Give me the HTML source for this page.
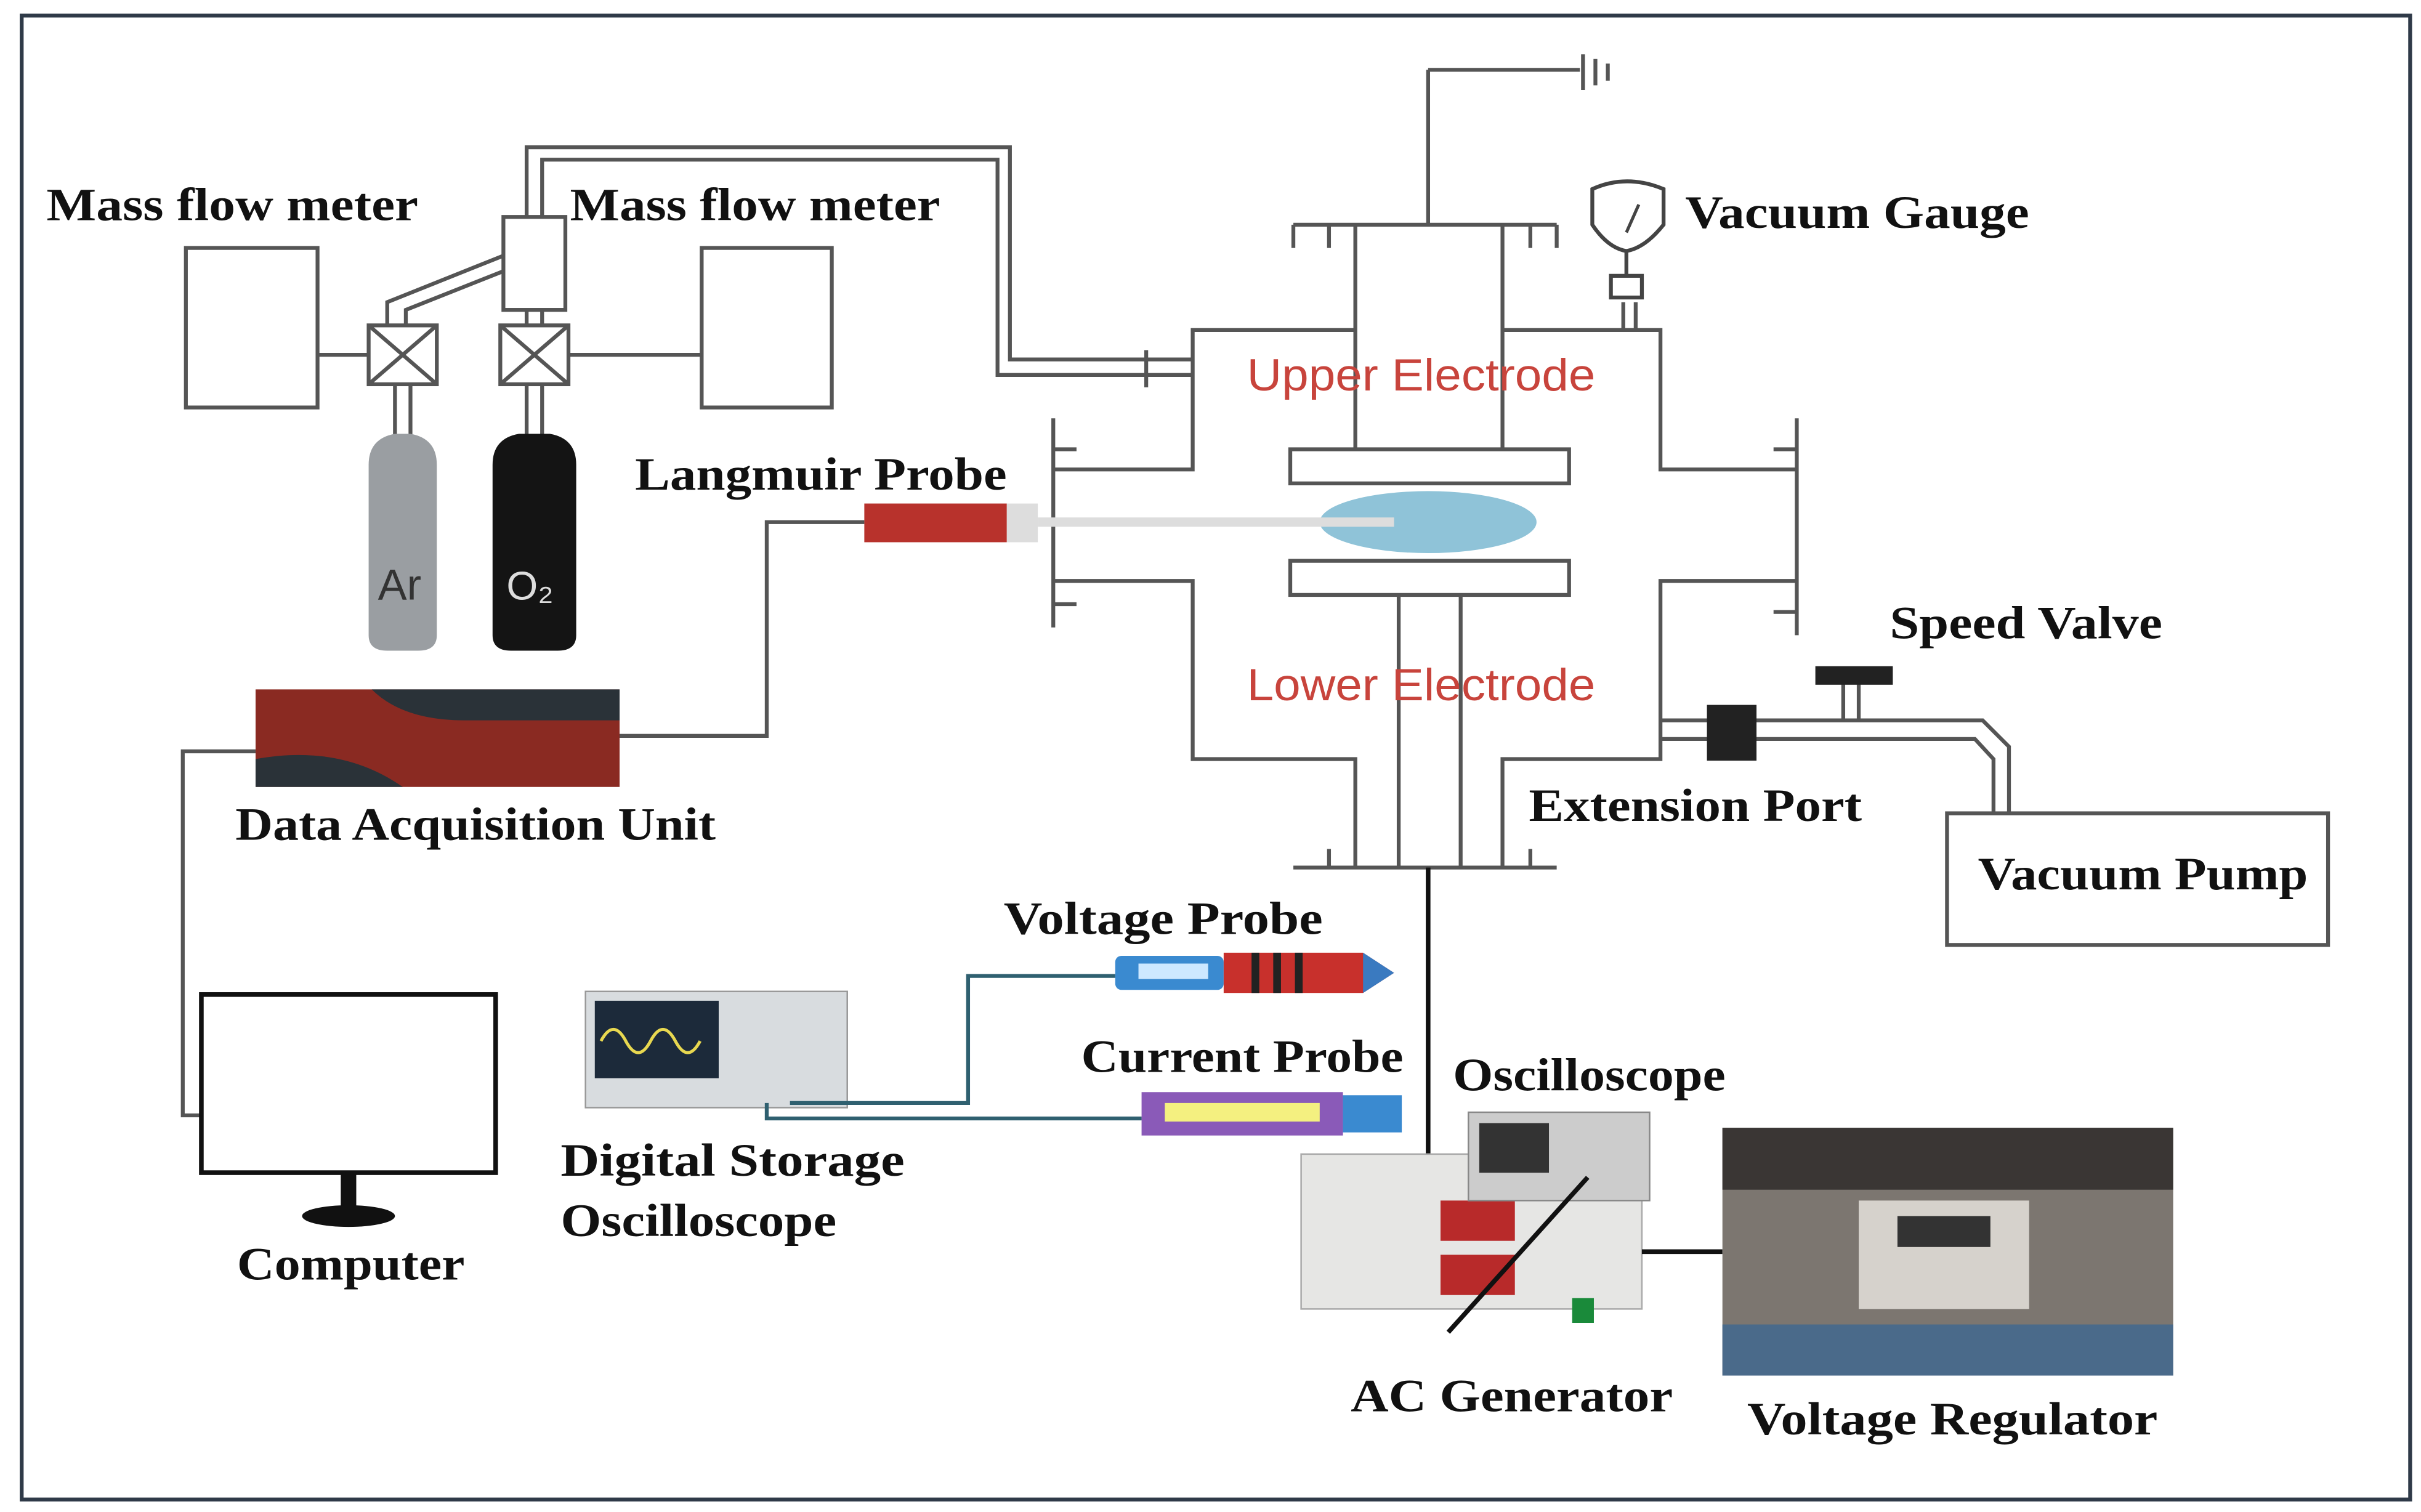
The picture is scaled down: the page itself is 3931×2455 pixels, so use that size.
<!DOCTYPE html>
<html><head><meta charset="utf-8"><style>
html,body{margin:0;padding:0;background:#fff}
svg{display:block}
.t{font-family:"Liberation Serif",serif;font-weight:bold;font-size:30px;fill:#111}
.r{font-family:"Liberation Sans",sans-serif;font-size:29px;fill:#c8443c}
.l{fill:none;stroke:#555;stroke-width:2.5}
</style></head><body>
<svg width="3931" height="2455" viewBox="0 0 1563 976" xmlns="http://www.w3.org/2000/svg">
<rect x="0" y="0" width="1563" height="976" fill="#fff"/>
<rect x="14" y="10" width="1542" height="958" fill="none" stroke="#2f3a48" stroke-width="2.5"/>

<rect x="120" y="160" width="85" height="103" class="l"/>
<rect x="453" y="160" width="84" height="103" class="l"/>
<rect x="325" y="140" width="40" height="60" class="l"/>
<line x1="205" y1="229" x2="238" y2="229" class="l"/>
<line x1="367" y1="229" x2="453" y2="229" class="l"/>
<g class="l">
<rect x="238" y="210" width="44" height="38"/><line x1="238" y1="210" x2="282" y2="248"/><line x1="282" y1="210" x2="238" y2="248"/>
<rect x="323" y="210" width="44" height="38"/><line x1="323" y1="210" x2="367" y2="248"/><line x1="367" y1="210" x2="323" y2="248"/>
</g>
<path d="M250 210 V195 L325 165 M262 210 V200 L325 175" class="l"/>
<path d="M340 210 V200 M350 210 V200" class="l"/>
<path d="M340 140 V95 H652 V232 H770 M350 140 V103 H644 V242 H770" class="l"/>
<line x1="740" y1="226" x2="740" y2="250" class="l"/>
<path d="M255 248 V285 M265 248 V285 M340 248 V285 M350 248 V285" class="l"/>

<path d="M238 300 Q238 283 255 280 H265 Q282 283 282 300 V410 Q282 420 270 420 H250 Q238 420 238 410 Z" fill="#9a9ea2"/>
<text x="244" y="387" font-family="Liberation Sans,sans-serif" font-size="28" fill="#333">Ar</text>
<path d="M318 300 Q318 283 335 280 H355 Q372 283 372 300 V410 Q372 420 360 420 H330 Q318 420 318 410 Z" fill="#141414"/>
<text x="327" y="387" font-family="Liberation Sans,sans-serif" font-size="26" fill="#ddd">O₂</text>

<g class="l">
<line x1="922" y1="45" x2="922" y2="145"/><line x1="922" y1="45" x2="1020" y2="45"/>
<line x1="1022" y1="35" x2="1022" y2="58"/><line x1="1030" y1="38" x2="1030" y2="55"/><line x1="1038" y1="41" x2="1038" y2="52"/>
<line x1="835" y1="145" x2="1005" y2="145"/><line x1="858" y1="145" x2="858" y2="160"/><line x1="988" y1="145" x2="988" y2="160"/>
<line x1="835" y1="145" x2="835" y2="160"/><line x1="1005" y1="145" x2="1005" y2="160"/>
<line x1="875" y1="145" x2="875" y2="290"/><line x1="970" y1="145" x2="970" y2="290"/>
<path d="M875 213 H770 V303 H680"/><path d="M970 213 H1072 V303 H1160"/>
<line x1="680" y1="270" x2="680" y2="405"/><line x1="1160" y1="270" x2="1160" y2="410"/>
<line x1="680" y1="290" x2="695" y2="290"/><line x1="680" y1="390" x2="695" y2="390"/>
<line x1="1145" y1="290" x2="1160" y2="290"/><line x1="1145" y1="395" x2="1160" y2="395"/>
<path d="M680 375 H770 V490 H875 V560"/><path d="M1160 375 H1072 V490 H970 V560"/>
<line x1="835" y1="560" x2="1005" y2="560"/><line x1="858" y1="548" x2="858" y2="560"/><line x1="988" y1="548" x2="988" y2="560"/>
<line x1="903" y1="384" x2="903" y2="560"/><line x1="943" y1="384" x2="943" y2="560"/>
<rect x="833" y="290" width="180" height="22"/><rect x="833" y="362" width="180" height="22"/>
<path d="M1048 195 V213 M1056 195 V213"/>
<path d="M1072 465 H1280 L1297 482 V525 M1072 477 H1275 L1287 490 V525"/>
<path d="M1190 440 V465 M1200 440 V465"/>
</g>
<line x1="922" y1="560" x2="922" y2="745" stroke="#111" stroke-width="3"/>
<ellipse cx="922" cy="337" rx="70" ry="20" fill="#8fc3d8"/>
<rect x="670" y="334" width="230" height="6" fill="#ddd"/>
<rect x="558" y="325" width="92" height="25" fill="#b8322c"/>
<rect x="650" y="325" width="20" height="25" fill="#ddd"/>
<path d="M558 337 H495 V475 H400" class="l"/>
<text class="r" x="805" y="252" textLength="225" lengthAdjust="spacingAndGlyphs">Upper Electrode</text>
<text class="r" x="805" y="452" textLength="225" lengthAdjust="spacingAndGlyphs">Lower Electrode</text>
<path d="M1028 122 Q1050 112 1074 122 V145 Q1062 160 1050 162 Q1038 160 1028 145 Z" fill="#fff" stroke="#444" stroke-width="2.5"/>
<line x1="1050" y1="150" x2="1058" y2="132" stroke="#444" stroke-width="2"/>
<rect x="1040" y="178" width="20" height="14" fill="#fff" stroke="#444" stroke-width="2.5"/>
<line x1="1050" y1="162" x2="1050" y2="178" stroke="#444" stroke-width="2.5"/>
<rect x="1102" y="455" width="32" height="36" fill="#222"/>
<rect x="1172" y="430" width="50" height="12" fill="#222"/>
<rect x="1257" y="525" width="246" height="85" class="l"/>

<path d="M165 445 H400 V508 H165 Z" fill="#8a2a22"/>
<path d="M240 445 H400 V465 H300 Q260 465 240 445 Z" fill="#2a3238"/>
<path d="M165 490 Q220 480 260 508 H165 Z" fill="#2a3238"/>
<path d="M165 485 H118 V720 H130" class="l"/>
<rect x="130" y="642" width="190" height="115" fill="#fff" stroke="#111" stroke-width="3"/>
<rect x="220" y="757" width="10" height="22" fill="#111"/>
<ellipse cx="225" cy="785" rx="30" ry="7" fill="#111"/>
<rect x="378" y="640" width="169" height="75" fill="#d8dcdf" stroke="#999"/>
<rect x="384" y="646" width="80" height="50" fill="#1c2a3a"/>
<path d="M388 672 q8 -15 16 0 t16 0 t16 0 t16 0" stroke="#e8d850" fill="none" stroke-width="2"/>
<path d="M495 712 V722 H737 M510 712 H625 V630 H720" stroke="#2f6070" stroke-width="2.5" fill="none"/>
<rect x="720" y="617" width="70" height="22" fill="#3a8ad0" rx="4"/>
<rect x="735" y="622" width="45" height="10" fill="#cde8ff"/>
<path d="M790 615 H880 L900 628 L880 641 H790 Z" fill="#c8302c"/>
<path d="M880 615 L900 628 L880 641 Z" fill="#3a7ac0"/>
<rect x="808" y="615" width="5" height="26" fill="#222"/><rect x="822" y="615" width="5" height="26" fill="#222"/><rect x="836" y="615" width="5" height="26" fill="#222"/>
<rect x="737" y="705" width="130" height="28" fill="#8a5ab8"/>
<rect x="752" y="712" width="100" height="12" fill="#f4f080"/>
<rect x="867" y="707" width="38" height="24" fill="#3a8ad0"/>
<rect x="840" y="745" width="220" height="100" fill="#e6e6e4" stroke="#aaa"/>
<rect x="930" y="775" width="48" height="26" fill="#b82a2a"/><rect x="930" y="810" width="48" height="26" fill="#b82a2a"/>
<rect x="1015" y="838" width="14" height="16" fill="#1a8a3a"/>
<rect x="948" y="718" width="117" height="57" fill="#ccc" stroke="#888"/>
<rect x="955" y="725" width="45" height="32" fill="#333"/>
<line x1="1025" y1="760" x2="935" y2="860" stroke="#111" stroke-width="3"/>
<line x1="1060" y1="808" x2="1112" y2="808" stroke="#111" stroke-width="3"/>
<rect x="1112" y="728" width="291" height="160" fill="#7c7670"/>
<rect x="1112" y="728" width="291" height="40" fill="#3a3634"/>
<rect x="1200" y="775" width="110" height="70" fill="#d6d2cc"/>
<rect x="1225" y="785" width="60" height="20" fill="#333"/>
<rect x="1112" y="855" width="291" height="33" fill="#4a6a8a"/>

<text class="t" x="30" y="142" textLength="240" lengthAdjust="spacingAndGlyphs">Mass flow meter</text>
<text class="t" x="368" y="142" textLength="239" lengthAdjust="spacingAndGlyphs">Mass flow meter</text>
<text class="t" x="1088" y="147" textLength="222" lengthAdjust="spacingAndGlyphs">Vacuum Gauge</text>
<text class="t" x="410" y="316" textLength="240" lengthAdjust="spacingAndGlyphs">Langmuir Probe</text>
<text class="t" x="1220" y="412" textLength="176" lengthAdjust="spacingAndGlyphs">Speed Valve</text>
<text class="t" x="987" y="530" textLength="215" lengthAdjust="spacingAndGlyphs">Extension Port</text>
<text class="t" x="1277" y="574" textLength="213" lengthAdjust="spacingAndGlyphs">Vacuum Pump</text>
<text class="t" x="152" y="542" textLength="310" lengthAdjust="spacingAndGlyphs">Data Acquisition Unit</text>
<text class="t" x="648" y="603" textLength="206" lengthAdjust="spacingAndGlyphs">Voltage Probe</text>
<text class="t" x="698" y="692" textLength="208" lengthAdjust="spacingAndGlyphs">Current Probe</text>
<text class="t" x="938" y="704" textLength="176" lengthAdjust="spacingAndGlyphs">Oscilloscope</text>
<text class="t" x="362" y="759" textLength="222" lengthAdjust="spacingAndGlyphs">Digital Storage</text>
<text class="t" x="362" y="798" textLength="178" lengthAdjust="spacingAndGlyphs">Oscilloscope</text>
<text class="t" x="153" y="826" textLength="147" lengthAdjust="spacingAndGlyphs">Computer</text>
<text class="t" x="872" y="911" textLength="208" lengthAdjust="spacingAndGlyphs">AC Generator</text>
<text class="t" x="1128" y="926" textLength="265" lengthAdjust="spacingAndGlyphs">Voltage Regulator</text>
</svg>
</body></html>
